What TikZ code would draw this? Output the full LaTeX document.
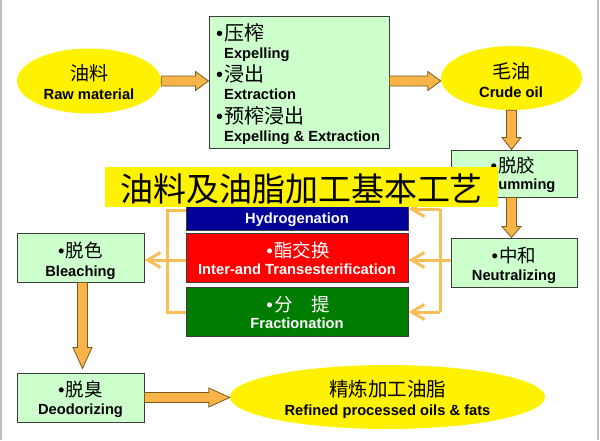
\documentclass[tikz,border=0pt]{standalone}
\usepackage{fontspec}
\setmainfont{Liberation Sans}
\newfontfamily\cjk{Noto Sans CJK SC}
\usetikzlibrary{shapes.geometric,arrows.meta,calc}
\definecolor{lgreen}{RGB}{204,255,204}
\definecolor{bord}{RGB}{60,60,60}
\definecolor{afill}{RGB}{248,180,72}
\definecolor{aedge}{RGB}{120,90,30}
\definecolor{oline}{RGB}{248,190,88}
\definecolor{dblue}{RGB}{0,0,153}
\definecolor{dgreen}{RGB}{0,125,0}
\definecolor{sidegray}{RGB}{190,190,190}
\tikzset{
  ell/.style={ellipse, fill=yellow, inner sep=0pt},
  gbox/.style={rectangle, fill=lgreen, draw=bord, line width=1pt, inner sep=0pt},
  cbox/.style={rectangle, draw=bord, line width=1pt, inner sep=0pt},
  cn/.style={font=\cjk\fontsize{19}{19}\selectfont, inner sep=0pt, anchor=base},
  en/.style={font=\bfseries\fontsize{14.7}{15}\selectfont, inner sep=0pt, anchor=base},
  fat/.style={fill=afill, draw=aedge, line width=0.8pt, line join=miter},
  oconn/.style={draw=oline, line width=3pt},
  oarr/.style={draw=oline, line width=3pt, -{Straight Barb[length=13pt,width=15pt]}},
}
\newcommand\bul{{\fontspec{Liberation Sans}•}\hspace{1.5pt}}
\newcommand\fatH[3]{%
  \draw[fat] let \p1=(#1), \p2=(#2) in
  (\x1,\y1+5pt) -- (\x2-#3pt,\y1+5pt) -- (\x2-#3pt,\y1+9.5pt) -- (\x2,\y1)
  -- (\x2-#3pt,\y1-9.5pt) -- (\x2-#3pt,\y1-5pt) -- (\x1,\y1-5pt) -- cycle;}
\newcommand\fatV[3]{%
  \draw[fat] let \p1=(#1), \p2=(#2) in
  (\x1-5pt,\y1) -- (\x1-5pt,\y2+#3pt) -- (\x1-9.5pt,\y2+#3pt) -- (\x1,\y2)
  -- (\x1+9.5pt,\y2+#3pt) -- (\x1+5pt,\y2+#3pt) -- (\x1+5pt,\y1) -- cycle;}
\begin{document}
\begin{tikzpicture}[x=1pt,y=-1pt]
\useasboundingbox (0,0) rectangle (600,440);
\fill[white] (0,0) rectangle (600,440);
\fill[sidegray] (0,0) rectangle (1.5,440);
\fill[sidegray] (597,0) rectangle (599,440);

% ellipses
\node[ell, minimum width=144pt, minimum height=65pt] (raw) at (89,81) {};
\node[cn] (rawc) at (89,80.5) {油料};
\node[en] (rawe) at (89,99) {Raw material};

\node[ell, minimum width=141pt, minimum height=64pt] (crude) at (511.5,78) {};
\node[cn] (crudec) at (511,78.5) {毛油};
\node[en] (crudee) at (511,97) {Crude oil};

\node[ell, minimum width=315pt, minimum height=64pt] (final) at (387.5,397) {};
\node[cn, font=\cjk\fontsize{19.5}{20}\selectfont] (finalc) at (387.5,396) {精炼加工油脂};
\node[en] (finale) at (387.5,415) {Refined processed oils \& fats};

% press box
\node[gbox, minimum width=180pt, minimum height=132pt] (press) at (299,82) {};
\node[cn, anchor=base west, font=\cjk\fontsize{20}{20}\selectfont] (p1c) at (216,40.5) {\bul 压榨};
\node[en, anchor=base west] (p1e) at (224,58) {Expelling};
\node[cn, anchor=base west, font=\cjk\fontsize{20}{20}\selectfont] (p2c) at (216,81.5) {\bul 浸出};
\node[en, anchor=base west] (p2e) at (224,99) {Extraction};
\node[cn, anchor=base west, font=\cjk\fontsize{20}{20}\selectfont] (p3c) at (216,123.5) {\bul 预榨浸出};
\node[en, anchor=base west] (p3e) at (224,141) {Expelling \& Extraction};

% refining boxes
\node[gbox, minimum width=126pt, minimum height=47pt] (degum) at (514,173.5) {};
\node[cn, font=\cjk\fontsize{18.5}{19}\selectfont] (degc) at (513,172) {\bul 脱胶};
\node[en] (dege) at (513,189) {Degumming};

\node[gbox, minimum width=126pt, minimum height=49pt] (neutral) at (514,262.5) {};
\node[cn, font=\cjk\fontsize{18.5}{19}\selectfont] (neuc) at (514,262) {\bul 中和};
\node[en] (neue) at (514,280) {Neutralizing};

\node[gbox, minimum width=127pt, minimum height=49pt] (bleach) at (80.5,257.5) {};
\node[cn, font=\cjk\fontsize{18.5}{19}\selectfont] (blc) at (80.5,257) {\bul 脱色};
\node[en] (ble) at (80.5,276) {Bleaching};

\node[gbox, minimum width=127pt, minimum height=49pt] (deodor) at (80.5,397.5) {};
\node[cn, font=\cjk\fontsize{18.5}{19}\selectfont] (dec) at (80.5,396) {\bul 脱臭};
\node[en] (dee) at (80.5,414) {Deodorizing};

% modification boxes
\node[cbox, fill=dblue, minimum width=222pt, minimum height=40pt] (hydro) at (297,210) {};
\node[en, text=white] (hye) at (297,223) {Hydrogenation};

\node[cbox, fill=red, minimum width=222pt, minimum height=49pt] (ester) at (297,257.5) {};
\node[cn, text=white, font=\cjk\fontsize{18.5}{19}\selectfont] (esc) at (298,257) {\bul 酯交换};
\node[en, text=white] (ese) at (297,274) {Inter-and Transesterification};

\node[cbox, fill=dgreen, minimum width=222pt, minimum height=49pt] (frac) at (297,311.5) {};
\node[cn, text=white, font=\cjk\fontsize{18.5}{19}\selectfont] (frc) at (298,311) {\bul 分\hspace{1em}提};
\node[en, text=white] (fre) at (297,328) {Fractionation};

% fat arrows
\fatH{raw.east}{press.west}{13}
\fatH{press.east |- raw.east}{crude.west}{13}
\fatV{crude.south}{degum.north}{12}
\fatV{crude.south |- degum.south}{degum.south |- neutral.north}{11}
\fatV{[xshift=2pt]bleach.south}{[yshift=4pt]deodor.north}{21}
\fatH{deodor.east}{final.west}{21}

% orange bracket connectors
\coordinate (rt) at (440,209);
\coordinate (rm) at (440,260);
\coordinate (rb) at (440,312);
\coordinate (lt) at (167,210);
\coordinate (lm) at (167,260);
\coordinate (lb) at (167,312);
\draw[oconn] (rt) -- (rb);
\draw[oarr] (rt) -- (rt -| hydro.east);
\draw[oarr] (rm -| neutral.west) -- (rm -| ester.east);
\draw[oarr] (rb) -- (rb -| frac.east);
\draw[oconn] (lt -| hydro.west) -- (lt) -- (lb) -- (lb -| frac.west);
\draw[oarr] (lm -| ester.west) -- (lm -| bleach.east);

% title band
\node[rectangle, fill=yellow, inner sep=0pt, minimum width=393pt, minimum height=40pt] (title) at (301.5,187) {};
\node[cn, font=\cjk\fontsize{33}{33}\selectfont] (titlet) at (301.5,201) {油料及油脂加工基本工艺};
\end{tikzpicture}
\end{document}
